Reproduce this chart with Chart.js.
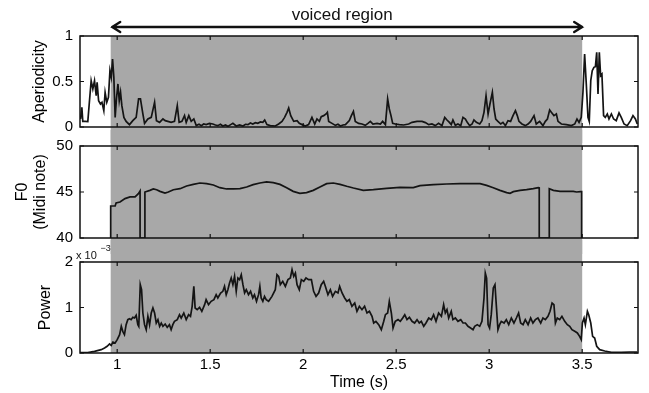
<!DOCTYPE html>
<html><head><meta charset="utf-8">
<script src="https://cdn.jsdelivr.net/npm/chart.js@4"></script>
<style>
body{margin:0;background:#fff;width:649px;height:393px;position:relative;overflow:hidden}
canvas{position:absolute;left:0}
</style></head><body>
<canvas id="c1" width="649" height="143" style="top:0px"></canvas>
<canvas id="c2" width="649" height="124" style="top:130px"></canvas>
<canvas id="c3" width="649" height="153" style="top:240px"></canvas>
<script>
// ---------- data ----------
const voicedStart = 0.965;
const voicedEnd = 3.5;
const voicedLabel = 'voiced region';

const xTickValues = [1, 1.5, 2, 2.5, 3, 3.5];
const xTickLabels = ['1', '1.5', '2', '2.5', '3', '3.5'];

const aperTickValues = [0, 0.5, 1];
const aperTickLabels = ['0', '0.5', '1'];
const f0TickValues = [40, 45, 50];
const f0TickLabels = ['40', '45', '50'];
const powerTickValues = [0, 1, 2];
const powerTickLabels = ['0', '1', '2'];

const aperTime = [0.803,0.810,0.815,0.828,0.842,0.851,0.860,0.869,0.878,0.887,0.892,0.900,0.910,0.918,0.928,0.935,0.944,0.953,0.961,0.968,0.975,0.982,0.989,0.996,1.004,1.011,1.018,1.025,1.036,1.048,1.066,1.084,1.102,1.115,1.125,1.138,1.147,1.165,1.183,1.201,1.211,1.228,1.246,1.258,1.272,1.290,1.308,1.323,1.333,1.348,1.362,1.371,1.385,1.398,1.412,1.425,1.440,1.452,1.465,1.478,1.496,1.514,1.528,1.541,1.555,1.568,1.582,1.595,1.610,1.622,1.640,1.658,1.676,1.690,1.703,1.716,1.729,1.743,1.756,1.770,1.783,1.793,1.805,1.823,1.850,1.868,1.886,1.900,1.913,1.922,1.933,1.949,1.967,1.979,1.994,2.011,2.029,2.047,2.062,2.074,2.087,2.097,2.110,2.123,2.130,2.137,2.155,2.173,2.187,2.200,2.214,2.227,2.248,2.259,2.270,2.280,2.298,2.316,2.334,2.348,2.361,2.375,2.397,2.415,2.427,2.442,2.454,2.463,2.472,2.481,2.495,2.517,2.540,2.567,2.585,2.612,2.639,2.657,2.675,2.692,2.710,2.728,2.746,2.761,2.773,2.786,2.796,2.805,2.818,2.832,2.847,2.859,2.872,2.882,2.895,2.908,2.918,2.931,2.949,2.961,2.972,2.983,2.994,3.004,3.017,3.026,3.035,3.047,3.062,3.074,3.087,3.101,3.115,3.128,3.141,3.151,3.160,3.176,3.194,3.209,3.223,3.241,3.253,3.271,3.289,3.302,3.313,3.325,3.334,3.348,3.361,3.370,3.388,3.415,3.442,3.460,3.472,3.483,3.495,3.504,3.513,3.522,3.531,3.538,3.546,3.554,3.563,3.571,3.578,3.585,3.592,3.599,3.606,3.615,3.624,3.635,3.644,3.657,3.669,3.683,3.698,3.710,3.725,3.742,3.760,3.773,3.786,3.796];
const aperValues = [0.088,0.216,0.062,0.062,0.060,0.289,0.509,0.418,0.509,0.344,0.491,0.289,0.253,0.271,0.179,0.381,0.271,0.326,0.619,0.546,0.747,0.546,0.106,0.308,0.473,0.289,0.381,0.234,0.106,0.062,0.026,0.070,0.106,0.308,0.308,0.143,0.040,0.088,0.106,0.271,0.070,0.051,0.088,0.070,0.062,0.051,0.062,0.234,0.051,0.062,0.125,0.051,0.125,0.062,0.088,0.015,0.030,0.015,0.033,0.026,0.040,0.033,0.022,0.015,0.030,0.011,0.022,0.007,0.026,0.040,0.011,0.022,0.011,0.030,0.026,0.044,0.033,0.048,0.040,0.055,0.051,0.077,0.026,0.015,0.011,0.033,0.062,0.106,0.161,0.209,0.125,0.062,0.070,0.040,0.026,0.011,0.026,0.106,0.033,0.088,0.062,0.114,0.125,0.143,0.161,0.062,0.040,0.018,0.030,0.011,0.022,0.026,0.070,0.125,0.172,0.062,0.040,0.033,0.018,0.040,0.062,0.033,0.040,0.033,0.062,0.026,0.308,0.198,0.125,0.040,0.033,0.026,0.022,0.033,0.051,0.062,0.062,0.048,0.026,0.033,0.015,0.040,0.015,0.106,0.077,0.051,0.026,0.077,0.018,0.033,0.015,0.106,0.088,0.051,0.015,0.033,0.077,0.051,0.033,0.070,0.161,0.344,0.143,0.253,0.381,0.198,0.088,0.062,0.033,0.051,0.015,0.070,0.062,0.125,0.179,0.125,0.062,0.033,0.015,0.033,0.062,0.125,0.033,0.062,0.015,0.062,0.088,0.187,0.161,0.125,0.143,0.062,0.033,0.026,0.015,0.033,0.088,0.051,0.106,0.381,0.802,0.473,0.106,0.062,0.509,0.619,0.656,0.663,0.821,0.363,0.821,0.564,0.582,0.125,0.106,0.143,0.088,0.143,0.088,0.070,0.154,0.106,0.033,0.015,0.070,0.125,0.088,0.033];

const f0Time = [0.965,0.965,0.989,0.994,1.015,1.042,1.069,1.096,1.114,1.123,1.123,1.149,1.149,1.176,1.194,1.212,1.230,1.257,1.275,1.302,1.338,1.373,1.409,1.445,1.481,1.517,1.552,1.588,1.624,1.660,1.696,1.731,1.767,1.803,1.839,1.875,1.911,1.946,1.982,2.018,2.054,2.090,2.126,2.162,2.198,2.234,2.270,2.323,2.377,2.449,2.520,2.592,2.628,2.700,2.771,2.843,2.915,2.951,2.986,3.022,3.058,3.094,3.112,3.130,3.166,3.201,3.237,3.264,3.269,3.269,3.323,3.323,3.345,3.381,3.452,3.470,3.492,3.497,3.497];
const f0Values = [40,43.48,43.48,43.80,43.91,44.28,44.46,44.46,44.82,45.11,40,40,45.00,45.18,45.33,45.25,45.07,44.89,45.00,45.25,45.36,45.65,45.83,45.98,45.91,45.76,45.47,45.33,45.33,45.36,45.54,45.80,45.98,46.09,46.01,45.83,45.47,45.07,44.86,44.93,45.18,45.54,45.91,45.98,45.83,45.62,45.43,45.18,45.25,45.40,45.51,45.47,45.69,45.80,45.87,45.91,45.91,45.91,45.72,45.47,45.18,44.93,44.86,45.04,45.18,45.25,45.36,45.47,45.45,40,40,45.36,45.18,45.07,45.07,45.00,45.04,45.04,40];

// power in units of 1e-3
const powerTime = [0.800,0.842,0.878,0.914,0.932,0.946,0.959,0.968,0.977,0.989,1.000,1.013,1.022,1.030,1.039,1.048,1.057,1.066,1.075,1.084,1.093,1.102,1.111,1.116,1.124,1.131,1.138,1.147,1.156,1.165,1.174,1.183,1.192,1.201,1.210,1.219,1.228,1.237,1.246,1.258,1.269,1.281,1.290,1.299,1.308,1.323,1.335,1.344,1.358,1.371,1.384,1.394,1.403,1.412,1.419,1.430,1.443,1.455,1.470,1.478,1.491,1.505,1.520,1.532,1.541,1.556,1.568,1.577,1.586,1.595,1.604,1.613,1.622,1.631,1.640,1.649,1.658,1.667,1.676,1.685,1.694,1.706,1.717,1.729,1.738,1.749,1.760,1.767,1.774,1.783,1.792,1.801,1.814,1.832,1.850,1.859,1.868,1.877,1.890,1.904,1.918,1.931,1.940,1.949,1.958,1.967,1.979,1.990,2.003,2.015,2.029,2.044,2.056,2.069,2.083,2.097,2.110,2.119,2.133,2.146,2.158,2.173,2.187,2.196,2.209,2.223,2.235,2.248,2.262,2.277,2.289,2.302,2.316,2.330,2.343,2.356,2.370,2.379,2.391,2.406,2.420,2.433,2.442,2.454,2.463,2.474,2.483,2.495,2.510,2.522,2.535,2.546,2.558,2.571,2.585,2.599,2.612,2.624,2.635,2.648,2.660,2.675,2.689,2.701,2.714,2.728,2.743,2.755,2.764,2.773,2.782,2.796,2.805,2.818,2.832,2.847,2.859,2.872,2.886,2.900,2.913,2.922,2.936,2.949,2.961,2.972,2.979,2.986,2.994,3.002,3.011,3.022,3.031,3.038,3.047,3.056,3.065,3.080,3.092,3.105,3.119,3.133,3.146,3.158,3.169,3.182,3.194,3.209,3.223,3.235,3.248,3.262,3.277,3.289,3.302,3.316,3.327,3.338,3.348,3.356,3.366,3.379,3.391,3.406,3.420,3.433,3.445,3.460,3.474,3.486,3.495,3.501,3.510,3.517,3.528,3.535,3.546,3.556,3.567,3.578,3.594,3.621,3.657,3.710,3.755,3.796];
const powerValues = [0.007,0.007,0.037,0.073,0.110,0.147,0.198,0.168,0.242,0.220,0.293,0.403,0.586,0.476,0.403,0.623,0.733,0.755,0.733,0.784,0.769,0.828,0.623,0.586,1.502,1.392,0.879,0.623,0.513,0.806,0.623,0.879,0.989,0.879,0.659,0.733,0.586,0.659,0.586,0.637,0.564,0.623,0.513,0.623,0.696,0.733,0.842,0.769,0.879,0.733,0.842,0.806,1.026,1.465,0.989,0.952,1.004,0.916,1.062,1.172,1.062,1.136,1.172,1.282,1.209,1.319,1.355,1.465,1.282,1.392,1.538,1.648,1.502,1.685,1.355,1.648,1.612,1.722,1.502,1.319,1.392,1.282,1.355,1.209,1.282,1.136,1.282,1.465,1.209,1.136,1.245,1.172,1.136,1.245,1.392,1.722,1.685,1.502,1.575,1.465,1.612,1.648,1.832,1.685,1.758,1.502,1.392,1.612,1.575,1.648,1.612,1.612,1.355,1.245,1.319,1.502,1.575,1.465,1.282,1.392,1.245,1.355,1.319,1.465,1.319,1.209,1.136,1.172,1.026,1.099,0.916,1.026,0.952,1.026,0.879,0.916,0.806,0.659,0.696,0.623,0.513,0.696,0.842,0.879,1.136,0.879,0.549,0.696,0.733,0.696,0.769,0.842,0.733,0.784,0.696,0.659,0.733,0.659,0.696,0.586,0.659,0.769,0.733,0.842,0.696,0.879,0.806,1.062,0.879,0.952,0.769,0.916,0.733,0.769,0.696,0.733,0.659,0.659,0.586,0.549,0.513,0.586,0.623,0.586,0.696,1.209,1.758,1.648,0.623,0.549,0.842,1.429,1.502,1.062,0.513,0.623,0.696,0.659,0.733,0.623,0.769,0.659,0.769,0.879,0.659,0.623,0.733,0.623,0.769,0.659,0.733,0.769,0.659,0.769,0.733,0.806,0.916,1.099,1.062,0.659,0.769,0.733,0.806,0.696,0.623,0.586,0.513,0.476,0.440,0.366,0.293,0.659,0.769,0.623,0.916,0.842,0.659,0.366,0.330,0.147,0.073,0.044,0.015,0.015,0.022,0.022];

// ---------- helpers ----------
const FONT = '"Liberation Sans", Arial, Helvetica, sans-serif';
const toPts = (xs, ys) => xs.map((x, i) => ({x: x, y: ys[i]}));

function framePlugin(grayFromCanvasTop, grayToCanvasBottom, extra) {
  return {
    id: 'frame',
    beforeDatasetsDraw(chart) {
      const {ctx, chartArea: a, scales: {x}} = chart;
      const x0 = x.getPixelForValue(voicedStart), x1 = x.getPixelForValue(voicedEnd);
      const y0 = grayFromCanvasTop ? 0 : a.top;
      const y1 = grayToCanvasBottom ? chart.height : a.bottom;
      ctx.save();
      ctx.fillStyle = '#a8a8a8';
      ctx.fillRect(x0, y0, x1 - x0, y1 - y0);
      ctx.restore();
    },
    afterDatasetsDraw(chart) {
      const {ctx, chartArea: a, scales: {x, y}} = chart;
      ctx.save();
      ctx.strokeStyle = '#111';
      ctx.lineWidth = 1.5;
      ctx.strokeRect(a.left, a.top, a.right - a.left, a.bottom - a.top);
      ctx.lineWidth = 1.2;
      ctx.beginPath();
      const L = 4;
      xTickValues.forEach(v => {
        const px = x.getPixelForValue(v);
        ctx.moveTo(px, a.top); ctx.lineTo(px, a.top + L);
        ctx.moveTo(px, a.bottom); ctx.lineTo(px, a.bottom - L);
      });
      y.ticks.forEach(t => {
        const py = y.getPixelForValue(t.value);
        ctx.moveTo(a.left, py); ctx.lineTo(a.left + L, py);
        ctx.moveTo(a.right, py); ctx.lineTo(a.right - L, py);
      });
      ctx.stroke();
      ctx.restore();
      if (extra) extra(chart);
    }
  };
}

function xScale(show) {
  return {
    type: 'linear', min: 0.8, max: 3.8, display: show,
    afterBuildTicks: s => { s.ticks = xTickValues.map(v => ({value: v})); },
    afterFit: s => { if (show) s.height = 40; },
    grid: {display: false, drawTicks: false},
    border: {display: false},
    ticks: {color: '#000', padding: 3, font: {family: FONT, size: 15}, maxRotation: 0,
            callback: (v, i) => xTickLabels[i]},
    title: {display: show, text: 'Time (s)', color: '#000', font: {family: FONT, size: 16},
            padding: {top: 0, bottom: 1}}
  };
}

function yScale(min, max, vals, labels, title, titlePad, lineHeight) {
  return {
    type: 'linear', min: min, max: max,
    afterBuildTicks: s => { s.ticks = vals.map(v => ({value: v})); },
    afterFit: s => { s.width = 80; },
    grid: {display: false, drawTicks: false},
    border: {display: false},
    ticks: {color: '#000', padding: 7, font: {family: FONT, size: 15},
            callback: (v, i) => labels[i]},
    title: {display: true, text: title, color: '#000',
            font: {family: FONT, size: 16, lineHeight: lineHeight || 1.2},
            padding: {top: titlePad, bottom: 0}}
  };
}

function lineDataset(xs, ys) {
  return {data: toPts(xs, ys), borderColor: '#141414', borderWidth: 1.7,
          pointRadius: 0, tension: 0, fill: false};
}

function makeChart(id, ds, yOpts, showX, padding, plugin) {
  return new Chart(document.getElementById(id), {
    type: 'line',
    data: {datasets: [ds]},
    options: {
      responsive: false, animation: false, devicePixelRatio: 1,
      layout: {padding: padding},
      plugins: {legend: {display: false}, tooltip: {enabled: false}},
      scales: {x: xScale(showX), y: yOpts}
    },
    plugins: [plugin]
  });
}

// arrow + label on top chart
function drawArrow(chart) {
  const {ctx, scales: {x}} = chart;
  const x0 = x.getPixelForValue(voicedStart) + 1.5;
  const x1 = x.getPixelForValue(voicedEnd);
  const yA = 27;
  ctx.save();
  ctx.strokeStyle = '#111';
  ctx.lineWidth = 2.4;
  ctx.lineCap = 'round';
  ctx.beginPath();
  ctx.moveTo(x0, yA); ctx.lineTo(x1, yA);
  ctx.moveTo(x0 + 8, yA - 5); ctx.lineTo(x0, yA); ctx.lineTo(x0 + 8, yA + 5);
  ctx.moveTo(x1 - 8, yA - 5); ctx.lineTo(x1, yA); ctx.lineTo(x1 - 8, yA + 5);
  ctx.stroke();
  ctx.fillStyle = '#111';
  ctx.font = '17px ' + FONT;
  ctx.textAlign = 'center';
  ctx.textBaseline = 'alphabetic';
  ctx.fillText(voicedLabel, (x0 + x1) / 2 - 5, 20);
  ctx.restore();
}

function drawExponent(chart) {
  const {ctx} = chart;
  ctx.save();
  ctx.fillStyle = '#111';
  ctx.textAlign = 'left';
  ctx.textBaseline = 'alphabetic';
  ctx.font = '11px ' + FONT;
  ctx.fillText('x 10', 76, 19);
  ctx.font = '9px ' + FONT;
  ctx.fillText('\u22123', 100.5, 11);
  ctx.restore();
}

makeChart('c1', lineDataset(aperTime, aperValues),
  yScale(0, 1, aperTickValues, aperTickLabels, 'Aperiodicity', 30.4),
  false, {left: 0, right: 11, top: 36, bottom: 16},
  framePlugin(false, true, drawArrow));

makeChart('c2', lineDataset(f0Time, f0Values),
  yScale(40, 50, f0TickValues, f0TickLabels, ['F0', '(Midi note)'], 14.2, 1.1),
  false, {left: 0, right: 11, top: 16, bottom: 16},
  framePlugin(true, true));

makeChart('c3', lineDataset(powerTime, powerValues),
  yScale(0, 2, powerTickValues, powerTickLabels, 'Power', 36.4),
  true, {left: 0, right: 11, top: 22, bottom: 0},
  framePlugin(true, false, drawExponent));
</script>
</body></html>
